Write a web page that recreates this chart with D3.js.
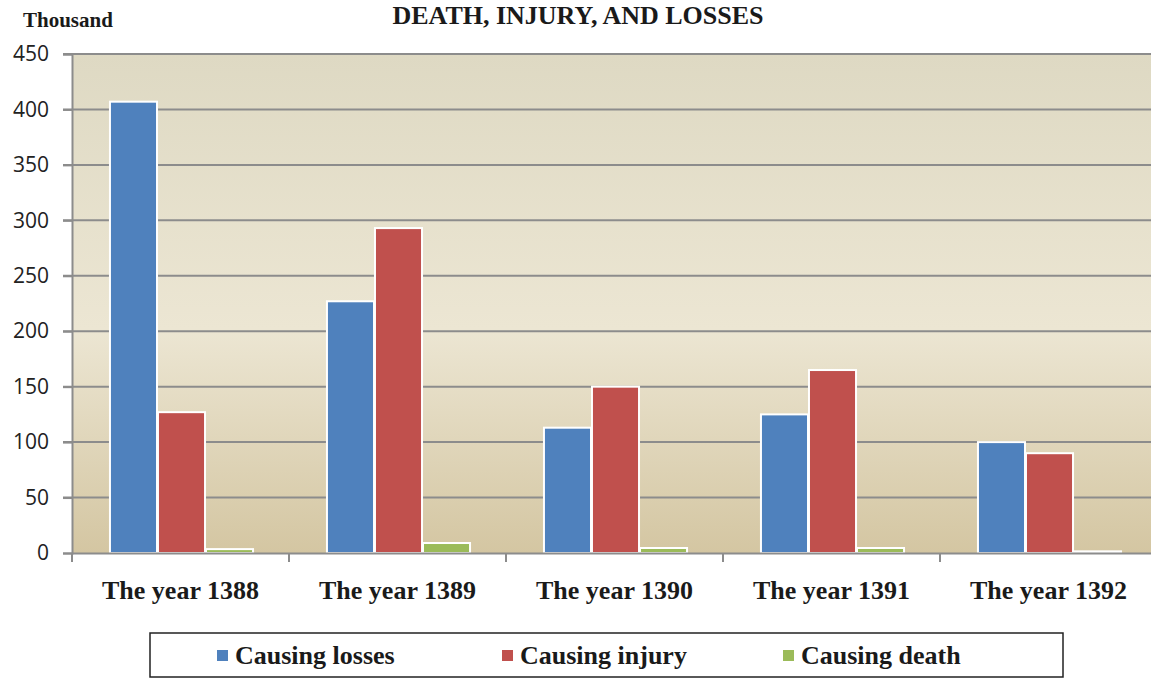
<!DOCTYPE html>
<html>
<head>
<meta charset="utf-8">
<script src="https://cdn.jsdelivr.net/npm/d3@7"></script>
<style>
  body { margin: 0; background: #fff; }
  svg { display: block; }
</style>
</head>
<body>
<script>
// chart data (values in thousands)
var years = ["The year 1388", "The year 1389", "The year 1390", "The year 1391", "The year 1392"];
var seriesNames = ["Causing losses", "Causing injury", "Causing death"];
var seriesColors = ["#4f81bd", "#c0504d", "#9bbb59"];
var losses = [407, 227, 113, 125, 100];
var injury = [127, 293, 150, 165, 90];
var death = [3.5, 9, 4.5, 4.5, 1.5];
var yTicks = [0, 50, 100, 150, 200, 250, 300, 350, 400, 450];

var W = 1151, H = 678;
var margin = {top: 54, left: 72, bottom: 125};
var plotW = 5 * 217;
var serif = "'Liberation Serif', 'Times New Roman', serif";

var svg = d3.select("body").append("svg")
    .attr("width", W)
    .attr("height", H);

var defs = svg.append("defs");
var grad = defs.append("linearGradient")
    .attr("id", "bg")
    .attr("x1", 0).attr("y1", 0).attr("x2", 0).attr("y2", 1);
grad.append("stop").attr("offset", "0%").attr("stop-color", "#ded9c3");
grad.append("stop").attr("offset", "55%").attr("stop-color", "#ece6d3");
grad.append("stop").attr("offset", "100%").attr("stop-color", "#d4c6a2");

var y = d3.scaleLinear()
    .domain([0, 450])
    .range([553, margin.top]);

var x0 = d3.scaleBand()
    .domain(years)
    .range([margin.left, margin.left + plotW]);

var x1 = d3.scaleBand()
    .domain(seriesNames)
    .range([0, 145])
    .padding(0.02);

svg.append("rect")
    .attr("x", margin.left)
    .attr("y", y(450))
    .attr("width", plotW)
    .attr("height", y(0) - y(450))
    .attr("fill", "url(#bg)");

// grid lines
svg.append("g")
    .selectAll("line")
    .data(yTicks.filter(d => d > 0))
    .enter()
    .append("line")
    .attr("x1", margin.left - 9)
    .attr("x2", margin.left + plotW)
    .attr("y1", d => y(d))
    .attr("y2", d => y(d))
    .attr("stroke", "#8c8c8c")
    .attr("stroke-width", 2);

// y axis
var yAxis = svg.append("g")
    .attr("transform", "translate(" + margin.left + ",0)")
    .call(d3.axisLeft(y).tickValues(yTicks).tickSize(9).tickPadding(14));
yAxis.select(".domain").attr("stroke", "#8c8c8c").attr("stroke-width", 2);
yAxis.selectAll(".tick line").attr("stroke", "#8c8c8c").attr("stroke-width", 2);
yAxis.selectAll(".tick text")
    .attr("font-family", "'Open Sans', 'DejaVu Sans', sans-serif")
    .attr("font-size", 21)
    .attr("fill", "#222");

// bars
var rows = years.map((yr, i) => ({
    year: yr,
    vals: [losses[i], injury[i], death[i]]
}));

var groups = svg.append("g")
    .selectAll("g")
    .data(rows)
    .enter()
    .append("g")
    .attr("transform", d => "translate(" + (x0(d.year) + 37) + ",0)");

groups.selectAll("rect")
    .data(d => d.vals.map((v, k) => ({name: seriesNames[k], value: v, k: k})))
    .enter()
    .append("rect")
    .attr("x", d => x1(d.name))
    .attr("width", x1.bandwidth())
    .attr("y", d => y(d.value))
    .attr("height", d => y(0) - y(d.value))
    .attr("fill", d => seriesColors[d.k])
    .attr("stroke", "#ffffff")
    .attr("stroke-width", 2);

// x axis
var xAxis = svg.append("g")
    .attr("transform", "translate(0," + y(0) + ")")
    .call(d3.axisBottom(x0).tickSize(0).tickPadding(28));
xAxis.select(".domain").attr("stroke", "#8c8c8c").attr("stroke-width", 2);
xAxis.selectAll(".tick text")
    .attr("font-family", serif)
    .attr("font-weight", "bold")
    .attr("font-size", 26)
    .attr("fill", "#1a1a1a");

// category separators
svg.append("g")
    .selectAll("line")
    .data(years)
    .enter()
    .append("line")
    .attr("x1", d => x0(d))
    .attr("x2", d => x0(d))
    .attr("y1", y(0))
    .attr("y2", y(0) + 9)
    .attr("stroke", "#8c8c8c")
    .attr("stroke-width", 2);

// titles
svg.append("text")
    .text("DEATH, INJURY, AND LOSSES")
    .attr("x", 578)
    .attr("y", 24)
    .attr("text-anchor", "middle")
    .attr("font-family", serif)
    .attr("font-weight", "bold")
    .attr("font-size", 26)
    .attr("fill", "#1a1a1a");

svg.append("text")
    .text("Thousand")
    .attr("x", 23)
    .attr("y", 27)
    .attr("font-family", serif)
    .attr("font-weight", "bold")
    .attr("font-size", 21)
    .attr("fill", "#1a1a1a");

// legend
svg.append("rect")
    .attr("x", 150)
    .attr("y", 633)
    .attr("width", 913)
    .attr("height", 44)
    .attr("fill", "none")
    .attr("stroke", "#222")
    .attr("stroke-width", 1.5);

var legendX = [217, 502, 783];
var legend = svg.append("g")
    .selectAll("g")
    .data(seriesNames)
    .enter()
    .append("g")
    .attr("transform", (d, i) => "translate(" + legendX[i] + ",655)");

legend.append("rect")
    .attr("x", 0)
    .attr("y", -5)
    .attr("width", 11)
    .attr("height", 11)
    .attr("fill", (d, i) => seriesColors[i]);

legend.append("text")
    .text(d => d)
    .attr("x", 18)
    .attr("dy", "0.35em")
    .attr("font-family", serif)
    .attr("font-weight", "bold")
    .attr("font-size", 26)
    .attr("fill", "#1a1a1a");
</script>
</body>
</html>
